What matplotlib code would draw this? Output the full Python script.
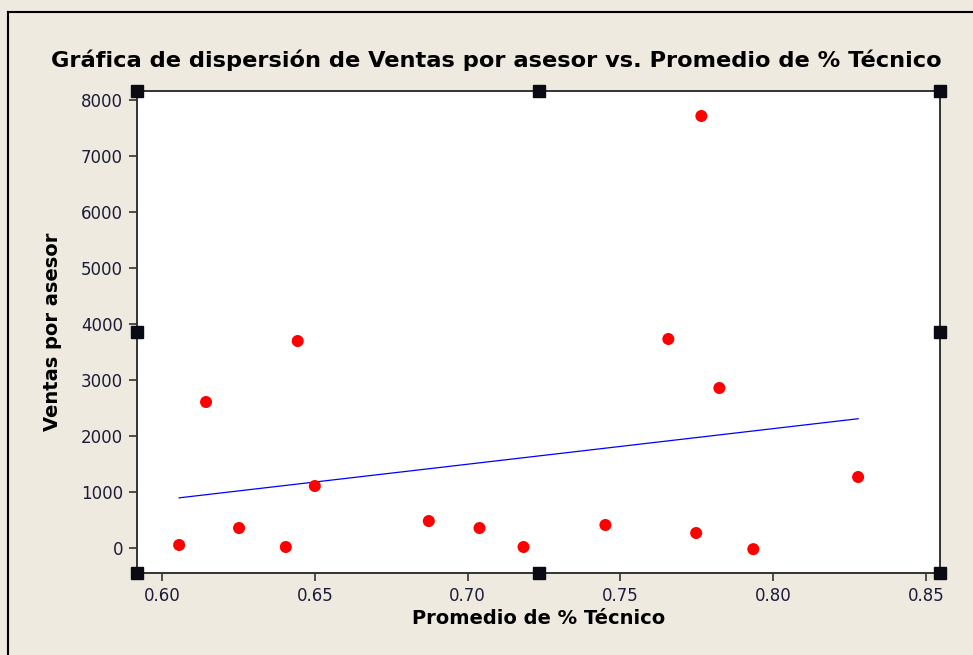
import numpy as np
import matplotlib.pyplot as plt
from matplotlib.lines import Line2D

# datos
promedio_tecnico = [0.6056, 0.6144, 0.6252, 0.6405, 0.6444, 0.6500, 0.6873, 0.7039,
                    0.7183, 0.7451, 0.7657, 0.7765, 0.7748, 0.7824, 0.7935, 0.8278]
ventas_asesor = [54, 2607, 357, 18, 3696, 1107, 482, 357,
                 18, 411, 3732, 7714, 268, 2857, -20, 1268]
x_ticks = [0.60, 0.65, 0.70, 0.75, 0.80, 0.85]
y_ticks = [0, 1000, 2000, 3000, 4000, 5000, 6000, 7000, 8000]

fondo = '#EEEAE0'
texto = '#1C1C3A'

fig = plt.figure(figsize=(9.73, 6.55), dpi=100, facecolor=fondo)
ax = fig.add_axes([137 / 973, 1 - 573 / 655, (940 - 137) / 973, (573 - 91) / 655])
ax.set_facecolor('white')

x = np.array(promedio_tecnico)
y = np.array(ventas_asesor)
ax.scatter(x, y, s=75, color='#FF0000', edgecolors='none', zorder=3)

# recta de regresión
m, b = np.polyfit(x, y, 1)
xl = np.array([x.min(), x.max()])
ax.plot(xl, m * xl + b, color='#0000FF', lw=0.9, zorder=2)

ax.set_xlim(0.5918, 0.8546)
ax.set_ylim(-446, 8160)
ax.set_xticks(x_ticks)
ax.set_xticklabels([f'{t:.2f}' for t in x_ticks])
ax.set_yticks(y_ticks)
ax.tick_params(direction='out', length=6, width=1.2, color='#333333',
               labelsize=12, labelcolor=texto, pad=4)
for s in ax.spines.values():
    s.set_color('#333333')
    s.set_linewidth(1.4)

# título centrado en la figura
fig.text(496.5 / 973, 1 - 60 / 655,
         'Gráfica de dispersión de Ventas por asesor vs. Promedio de % Técnico',
         fontsize=16.2, fontweight='bold', color='black', ha='center', va='center')
ax.set_xlabel('Promedio de % Técnico', fontsize=14, fontweight='bold', color='black', labelpad=3)
ax.set_ylabel('Ventas por asesor', fontsize=14, fontweight='bold', color='black', labelpad=14)

# marcas de selección
hx = [0, 0.5, 1, 0, 1, 0, 0.5, 1]
hy = [1, 1, 1, 0.5, 0.5, 0, 0, 0]
ax.plot(hx, hy, 's', ms=8, color='#0A0A14', transform=ax.transAxes, clip_on=False, zorder=5)

# borde de la ventana
fig.add_artist(Line2D([8 / 973, 8 / 973], [0, 1 - 12 / 655], transform=fig.transFigure, color='black', lw=1.5))
fig.add_artist(Line2D([8 / 973, 1], [1 - 12 / 655, 1 - 12 / 655], transform=fig.transFigure, color='black', lw=1.5))

plt.savefig('out.png', dpi=100, facecolor=fondo)
